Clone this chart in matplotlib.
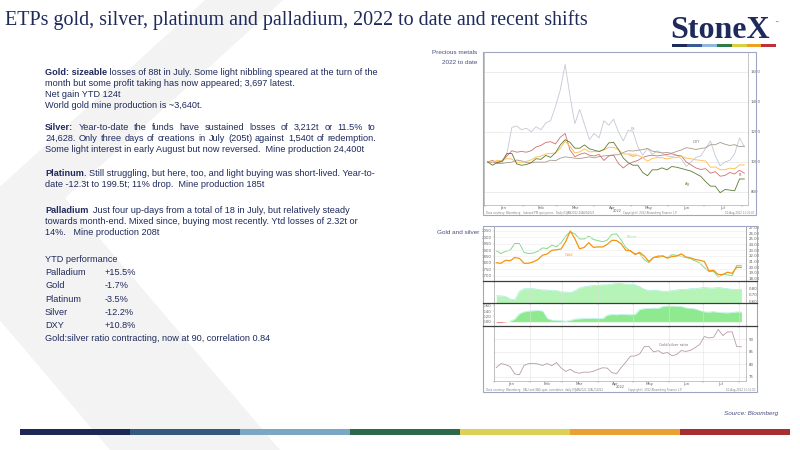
import matplotlib
matplotlib.use('Agg')
import matplotlib.pyplot as plt
from matplotlib.patches import Polygon, Rectangle
import numpy as np
import pandas as pd

# ---- data (every 4 days from 3 Jan 2022) ----
gold = [1801, 1797, 1820, 1817, 1842, 1835, 1797, 1797, 1808, 1826,
        1860, 1870, 1898, 1903, 1908, 1966, 2050, 1988, 1910, 1921,
        1958, 1922, 1925, 1925, 1945, 1977, 1975, 1950, 1898, 1896,
        1865, 1883, 1853, 1811, 1842, 1853, 1853, 1837, 1850, 1853,
        1871, 1846, 1839, 1827, 1820, 1811, 1737, 1742, 1708, 1709,
        1727, 1718, 1766, 1765]
silver = [22.9, 22.4, 22.8, 23.0, 24.2, 24.2, 22.6, 22.4, 22.5, 22.8,
          23.4, 23.3, 23.9, 23.6, 24.3, 25.5, 26.3, 25.9, 25.0, 25.0,
          25.5, 24.9, 24.7, 24.5, 24.8, 25.8, 25.9, 24.8, 23.5, 22.8,
          22.4, 22.4, 21.3, 20.8, 21.7, 21.7, 22.0, 21.7, 22.2, 22.1,
          21.9, 21.7, 21.5, 21.1, 20.7, 19.9, 19.2, 19.2, 18.2, 18.7,
          18.6, 18.5, 20.3, 20.3]
# indexed to 1000
palladium = [1000, 995, 1005, 990, 1060, 1230, 1240, 1215, 1225, 1200,
             1235, 1215, 1260, 1275, 1370, 1480, 1650, 1440, 1255, 1350,
             1250, 1150, 1190, 1160, 1275, 1245, 1285, 1200, 1140, 1210,
             1205, 1100, 1045, 1090, 1050, 1075, 1060, 1040, 1035, 1045,
             1020, 970, 1000, 1030, 1040, 1090, 1140, 1040, 975, 1000,
             1010, 1055, 1160, 1100]
platinum = [1000, 1010, 995, 1010, 1040, 1075, 1065, 1070, 1065, 1075,
            1100, 1110, 1130, 1135, 1120, 1165, 1190, 1080, 1035, 1050,
            1060, 1045, 1040, 1050, 1010, 1040, 1045, 990, 960, 985,
            1000, 1010, 1030, 1040, 1045, 1040, 1045, 1050, 1055, 1045,
            1040, 1000, 980, 960, 950, 955, 925, 935, 905, 910,
            930, 920, 945, 925]
dxy = [1000, 997, 990, 990, 996, 998, 1013, 1007, 995, 994,
       999, 998, 999, 1012, 1008, 1025, 1034, 1030, 1025, 1023,
       1028, 1034, 1027, 1036, 1040, 1043, 1047, 1048, 1063, 1075,
       1073, 1078, 1082, 1090, 1072, 1066, 1060, 1063, 1058, 1070,
       1080, 1095, 1090, 1083, 1090, 1094, 1115, 1115, 1130, 1118,
       1110, 1115, 1102, 1105]
corr_a = [0.68, 0.68, 0.67, 0.63, 0.62, 0.75, 0.79, 0.79, 0.79, 0.78,
          0.77, 0.77, 0.76, 0.76, 0.74, 0.74, 0.73, 0.76, 0.80, 0.82,
          0.83, 0.84, 0.84, 0.85, 0.85, 0.86, 0.87, 0.87, 0.86, 0.86,
          0.85, 0.82, 0.78, 0.76, 0.77, 0.76, 0.75, 0.75, 0.76, 0.77,
          0.78, 0.78, 0.79, 0.79, 0.80, 0.81, 0.80, 0.80, 0.81, 0.80,
          0.79, 0.78, 0.78, 0.78]
corr_b = [-0.03, -0.03, -0.01, 0.02, 0.10, 0.30, 0.37, 0.40, 0.41, 0.42,
          0.40, 0.12, 0.06, 0.05, 0.04, 0.02, 0.05, 0.10, 0.11, 0.12,
          0.12, 0.13, 0.12, 0.12, 0.25, 0.27, 0.26, 0.28, 0.27, 0.26,
          0.27, 0.46, 0.49, 0.50, 0.51, 0.50, 0.57, 0.59, 0.59, 0.58,
          0.57, 0.52, 0.50, 0.48, 0.42, 0.37, 0.36, 0.38, 0.35, 0.34,
          0.33, 0.35, 0.37, 0.36]

months = ['Jan', 'Feb', 'Mar', 'Apr', 'May', 'Jun', 'Jul']
ytd_names = ['Palladium', 'Gold', 'Platinum', 'Silver', 'DXY']
ytd_values = ['+15.5%', '-1.7%', '-3.5%', '-12.2%', '+10.8%']

dates = pd.date_range('2022-01-03', periods=len(gold), freq='4D')
gold = np.array(gold, dtype=float)
silver = np.array(silver, dtype=float)
gold_idx = gold / gold[0] * 1000
silver_idx = silver / silver[0] * 1000
ratio = gold / silver

TXT = '#1f2a5c'
LBL = '#4a5080'
TICK = '#606060'
BODY = 6.6

fig = plt.figure(figsize=(8, 4.5), dpi=100)
bg = fig.add_axes([0, 0, 1, 1])
bg.set_xlim(0, 800)
bg.set_ylim(450, 0)
bg.axis('off')
renderer = fig.canvas.get_renderer()


def px_axes(left, top, right, bottom, z=1):
    return fig.add_axes([left / 800, 1 - bottom / 450, (right - left) / 800, (bottom - top) / 450], zorder=z)


# background chevron
bg.add_patch(Polygon([(205, 0), (283, 0), (65, 198), (280, 450), (110, 450), (-64, 245)],
                     closed=True, color='#f3f3f3', lw=0))

# title and logo
bg.text(5, 20, 'ETPs gold, silver, platinum and palladium, 2022 to date and recent shifts',
        family='Liberation Serif', fontsize=14.4, color=TXT, va='center', ha='left')
bg.text(720, 31, 'StoneX', family='Liberation Serif', fontweight='bold', fontsize=23,
        color=TXT, va='center', ha='center')
bg.text(774, 23, '\u2122', family='DejaVu Sans', fontsize=3, color=TXT, va='center')
logo_cols = ['#1f2a5c', '#3a5a9c', '#8fb8dc', '#2e7a4a', '#d9d040', '#f0a020', '#c0303a']
for i, c in enumerate(logo_cols):
    bg.add_patch(Rectangle((672 + i * 14.9, 43.5), 14.9, 3.5, color=c, lw=0))

# bottom bar and source
bar_cols = ['#1e2856', '#35587f', '#7ba7c5', '#2c6a4a', '#dcd058', '#e9a232', '#a6302f']
for i, c in enumerate(bar_cols):
    bg.add_patch(Rectangle((20 + i * 110, 429), 110, 6, color=c, lw=0))
bg.text(778, 413, 'Source: Bloomberg', family='Liberation Sans', style='italic', fontsize=4.6,
        color=LBL, ha='right', va='center')


# ---- body text ----
BASE = 2.3  # line centre -> baseline offset in pixels


def draw_parts(x, y, parts, size=BODY):
    for s, w in parts:
        t = bg.text(x, y + BASE, s, family='Liberation Sans', fontweight=w, fontsize=size,
                    color=TXT, va='baseline', ha='left')
        x += t.get_window_extent(renderer).width


def justify(x0, x1, y, words, size=BODY):
    items = []
    total = 0
    for s, w in words:
        t = bg.text(0, y + BASE, s, family='Liberation Sans', fontweight=w, fontsize=size,
                    color=TXT, va='baseline', ha='left')
        wd = t.get_window_extent(renderer).width
        items.append((t, wd))
        total += wd
    gap = (x1 - x0 - total) / (len(items) - 1)
    x = x0
    for t, wd in items:
        t.set_x(x)
        x += wd + gap


def words_of(line, bold_first=0):
    ws = line.split()
    return [(w, 'bold' if i < bold_first else 'normal') for i, w in enumerate(ws)]


X0 = 45
draw_parts(X0, 73, [('Gold: sizeable', 'bold'),
                    (' losses of 88t in July. Some light nibbling speared at the turn of the', 'normal')])
draw_parts(X0, 84, [('month but some profit taking has now appeared; 3,697 latest.', 'normal')])
draw_parts(X0, 95, [('Net gain YTD 124t', 'normal')])
draw_parts(X0, 106, [('World gold mine production is ~3,640t.', 'normal')])

justify(X0, 376, 128, words_of('Silver: Year-to-date the funds have sustained losses of 3,212t or 11.5% to', 1))
justify(X0, 376, 139, words_of('24,628.  Only three days of creations in July (205t) against 1,540t of redemption.'))
draw_parts(X0, 150, [('Some light interest in early August but now reversed.  Mine production 24,400t', 'normal')])

draw_parts(X0, 174, [('Platinum', 'bold'),
                     ('. Still struggling, but here, too, and light buying was short-lived. Year-to-', 'normal')])
draw_parts(X0, 185, [('date -12.3t to 199.5t; 11% drop.  Mine production 185t', 'normal')])

draw_parts(X0, 211, [('Palladium', 'bold'),
                     ('  Just four up-days from a total of 18 in July, but relatively steady', 'normal')])
draw_parts(X0, 222, [('towards month-end. Mixed since, buying most recently. Ytd losses of 2.32t or', 'normal')])
draw_parts(X0, 233, [('14%.   Mine production 208t', 'normal')])

draw_parts(X0, 260, [('YTD performance', 'normal')])
for i, (n, v) in enumerate(zip(ytd_names, ytd_values)):
    y = 273 + i * 13.2
    draw_parts(X0, y, [(n, 'normal')])
    draw_parts(105, y, [(v, 'normal')])
draw_parts(X0, 339, [('Gold:silver ratio contracting, now at 90, correlation 0.84', 'normal')])


# ---- helpers for the small Bloomberg charts ----
starts = pd.date_range('2022-01-01', '2022-08-01', freq='MS')
mids = starts[:-1] + pd.Timedelta(days=15)


def month_axis(ax, labels):
    ax.set_xticks(starts)
    ax.set_xticklabels([])
    ax.tick_params(axis='x', which='major', length=1.2, width=0.3, color='#999999')
    if labels:
        ax.set_xticks(mids, minor=True)
        ax.set_xticklabels(months, minor=True, fontsize=2.8, color=TICK)
        ax.tick_params(axis='x', which='minor', length=0, pad=0.4)
    else:
        ax.tick_params(axis='x', which='minor', length=0)


def style_y(ax, side, ticks, labels):
    ax.set_yticks(ticks)
    ax.set_yticklabels(labels, fontsize=2.8, color=TICK)
    ax.tick_params(axis='y', length=1, width=0.3, pad=0.8, color='#999999')
    if side == 'right':
        ax.yaxis.tick_right()


def frame_axes(ax):
    ax.set_facecolor('none')
    for s in ax.spines.values():
        s.set_linewidth(0.4)
        s.set_color('#9a9a9a')


# ---- chart 1: precious metals indexed ----
bg.text(477, 53, 'Precious metals', family='Liberation Sans', fontsize=4.6, color=LBL, ha='right', va='center')
bg.text(477, 63, '2022 to date', family='Liberation Sans', fontsize=4.6, color=LBL, ha='right', va='center')

ax1 = px_axes(484, 52, 748, 205)
frame_axes(ax1)
ax1.spines['top'].set_visible(False)
ax1.plot(dates, palladium, color='#c4c7d6', lw=0.6)
ax1.plot(dates, dxy, color='#a89a8c', lw=0.6)
ax1.plot(dates, platinum, color='#cf6f6f', lw=0.6)
ax1.plot(dates, gold_idx, color='#ffc25c', lw=0.7)
ax1.plot(dates, silver_idx, color='#5c7a36', lw=0.6)
ax1.set_ylim(713, 1733)
ax1.set_xlim(pd.Timestamp('2021-12-31'), pd.Timestamp('2022-08-06'))
style_y(ax1, 'right', [800, 1000, 1200, 1400, 1600], ['800', '1000', '1200', '1400', '1600'])
month_axis(ax1, True)
ax1.grid(axis='y', color='#e6e6e6', lw=0.5)
for name, d, v, c in [('Pd', '2022-05-03', 1223, '#9da1b4'), ('DXY', '2022-06-24', 1133, '#8a7c6e'),
                      ('Gold', '2022-05-03', 1045, '#f0a030'), ('Ag', '2022-06-17', 855, '#5c7a36'),
                      ('Pt', '2022-07-31', 911, '#b05050')]:
    ax1.text(pd.Timestamp(d), v, name, fontsize=2.6, color=c, ha='center', va='center')
bg.text(617, 210.8, '2022', fontsize=2.5, color=TICK, ha='center', va='center')
bg.text(486, 213.4, 'Data courtesy: Bloomberg   Indexed PM spot prices   Daily 03JAN2022-10AUG2022',
        fontsize=1.9, color='#808080', va='center')
bg.text(650, 213.4, 'Copyright\u00a9 2022 Bloomberg Finance L.P.', fontsize=1.9, color='#808080',
        va='center', ha='center')
bg.text(754, 213.4, '10-Aug-2022 11:31:00', fontsize=1.9, color='#808080', va='center', ha='right')

# ---- chart 2: gold and silver ----
bg.text(479, 233, 'Gold and silver', family='Liberation Sans', fontsize=4.6, color=LBL, ha='right', va='center')
xl = (pd.Timestamp('2022-01-01'), pd.Timestamp('2022-08-07'))

p1 = px_axes(494, 226, 746, 281)
frame_axes(p1)
p1.plot(dates, gold, color='#f39512', lw=0.9, zorder=3)
p1.set_ylim(1658, 2089)
p1.set_xlim(*xl)
gold_ticks = [1700, 1750, 1800, 1850, 1900, 1950, 2000, 2050]
style_y(p1, 'left', gold_ticks, [str(t) for t in gold_ticks])
p1.grid(axis='y', color='#ececec', lw=0.4)
month_axis(p1, False)
p1b = p1.twinx()
p1b.set_zorder(p1.get_zorder() - 0.5)
frame_axes(p1b)
p1b.plot(dates, silver, color='#86d886', lw=0.7)
p1b.set_ylim(17.52, 27.3)
p1b.set_xlim(*xl)
silver_ticks = [18, 19, 20, 21, 22, 23, 24, 25, 26, 27]
style_y(p1b, 'right', silver_ticks, ['%.2f' % t for t in silver_ticks])
p1b.text(pd.Timestamp('2022-04-30'), 25.3, 'Silver', fontsize=2.6, color='#86d886', ha='center', va='center')
p1.text(pd.Timestamp('2022-03-07'), 1863, 'Gold', fontsize=2.6, color='#f39512', ha='center', va='center')

p2 = px_axes(494, 281, 746, 303)
frame_axes(p2)
p2.fill_between(dates, corr_a, 0.57, color='#b6f3b6', lw=0)
p2.plot(dates, corr_a, color='#a4eedc', lw=0.5)
p2.set_ylim(0.57, 0.908)
p2.set_xlim(*xl)
style_y(p2, 'right', [0.6, 0.7, 0.8], ['0.60', '0.70', '0.80'])
month_axis(p2, False)
p2.grid(axis='x', color='#dddddd', lw=0.4)

p3 = px_axes(494, 303, 746, 326)
frame_axes(p3)
cb = np.array(corr_b)
p3.fill_between(dates, cb, 0, where=cb >= 0, interpolate=True, color='#8fea8f', lw=0)
p3.fill_between(dates, cb, 0, where=cb < 0, interpolate=True, color='#e46a6a', lw=0)
p3.plot(dates, np.where(cb >= 0, cb, np.nan), color='#a4eedc', lw=0.4)
p3.set_ylim(-0.16, 0.70)
p3.set_xlim(*xl)
style_y(p3, 'left', [0.0, 0.2, 0.4, 0.6], ['0.00', '0.20', '0.40', '0.60'])
month_axis(p3, False)
p3.grid(axis='x', color='#dddddd', lw=0.4)

p4 = px_axes(494, 326, 746, 381)
frame_axes(p4)
p4.plot(dates, ratio, color='#b99aa8', lw=0.6)
p4.set_ylim(73.3, 95.2)
p4.set_xlim(*xl)
style_y(p4, 'right', [75, 80, 85, 90], ['75', '80', '85', '90'])
month_axis(p4, True)
p4.grid(color='#e4e4e4', lw=0.4)
p4.text(pd.Timestamp('2022-06-05'), 87.6, 'Gold/silver ratio', fontsize=2.6, color='#8a7080',
        ha='center', va='center')
bg.text(620, 387.2, '2022', fontsize=2.5, color=TICK, ha='center', va='center')
bg.text(486, 390.2, 'Data courtesy: Bloomberg   XAU and XAG spot, correlation, daily 03JAN2022-10AUG2022',
        fontsize=1.9, color='#808080', va='center')
bg.text(655, 390.2, 'Copyright\u00a9 2022 Bloomberg Finance L.P.', fontsize=1.9, color='#808080',
        va='center', ha='center')
bg.text(755, 390.2, '10-Aug-2022 11:31:00', fontsize=1.9, color='#808080', va='center', ha='right')

# ---- overlay: frames and panel separators ----
ov = fig.add_axes([0, 0, 1, 1], zorder=10)
ov.set_xlim(0, 800)
ov.set_ylim(450, 0)
ov.axis('off')
ov.patch.set_visible(False)
ov.add_patch(Rectangle((483, 52), 273, 163, fill=False, ec='#9ea6c2', lw=0.8))
ov.add_patch(Rectangle((483, 226), 274, 166, fill=False, ec='#9ea6c2', lw=0.8))
for yy in [281, 303, 326]:
    ov.plot([483, 757], [yy, yy], color='#3c3c3c', lw=0.9)

fig.savefig('out.png', dpi=100)
